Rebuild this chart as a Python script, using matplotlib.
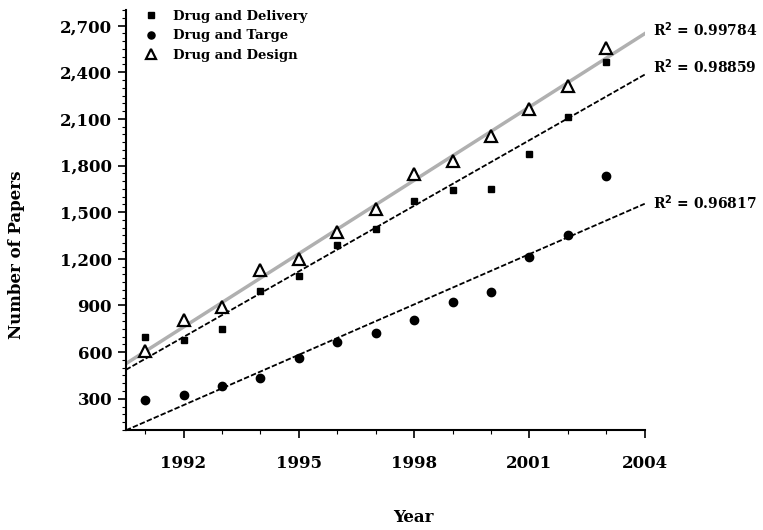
import numpy as np
import matplotlib
matplotlib.use("Agg")
from matplotlib import pyplot as plt
from matplotlib.ticker import MultipleLocator, FuncFormatter

# values
years = [1991, 1992, 1993, 1994, 1995, 1996, 1997, 1998, 1999, 2000, 2001, 2002, 2003]
delivery = [700, 680, 750, 990, 1090, 1290, 1395, 1570, 1640, 1650, 1875, 2110, 2465]
targe = [290, 322, 382, 432, 562, 665, 721, 804, 922, 986, 1211, 1350, 1735]
design = [605, 804, 888, 1125, 1196, 1371, 1523, 1748, 1832, 1992, 2166, 2313, 2557]
r2_labels = ["R$^2$ = 0.99784", "R$^2$ = 0.98859", "R$^2$ = 0.96817"]
x_ticks = [1992, 1995, 1998, 2001, 2004]

plt.rcParams['font.family'] = ['DejaVu Serif']
plt.rcParams['font.weight'] = 'bold'

fig = plt.figure(figsize=(7.63, 5.30), dpi=100)
ax = fig.add_axes([0.165, 0.189, 0.680, 0.792])

x = np.array(years)
xfit = np.array([1990.5, 2004])

# linear trend lines
for ys, col, lw, ls in [(design, '#b0b0b0', 2.5, '-'),
                        (delivery, 'black', 1.3, (0, (3, 1.2))),
                        (targe, 'black', 1.3, (0, (3, 1.2)))]:
    k, b = np.polyfit(x, ys, 1)
    ax.plot(xfit, k*xfit + b, color=col, lw=lw, linestyle=ls, zorder=2)

ax.plot(x, delivery, 's', color='black', ms=5, label='Drug and Delivery', zorder=3)
ax.plot(x, targe, 'o', color='black', ms=6, label='Drug and Targe', zorder=3)
ax.plot(x, design, '^', mfc='white', mec='black', mew=1.6, ms=8.5, label='Drug and Design', zorder=4)

ax.set_xlim(1990.5, 2004)
ax.set_ylim(100, 2800)
ax.set_xticks(x_ticks)
ax.xaxis.set_minor_locator(MultipleLocator(1))
ax.yaxis.set_major_locator(MultipleLocator(300))
ax.yaxis.set_minor_locator(MultipleLocator(50))
ax.set_yticks(range(300, 2701, 300))
ax.yaxis.set_major_formatter(FuncFormatter(lambda v, p: f"{int(v):,}"))
ax.tick_params(axis='both', which='major', labelsize=12, length=6, width=1.2)
ax.tick_params(axis='x', which='major', pad=12)
ax.tick_params(axis='y', which='major', pad=4)
ax.tick_params(axis='both', which='minor', length=3, width=0.8)
for s in ['top', 'right']:
    ax.spines[s].set_visible(False)
for s in ['left', 'bottom']:
    ax.spines[s].set_linewidth(1.5)

leg = ax.legend(loc='upper left', bbox_to_anchor=(0.02, 1.02), frameon=False,
                fontsize=9.5, handletextpad=1.2, borderaxespad=0.2, labelspacing=0.5,
                handlelength=1.0, markerscale=0.85)

# R^2 labels to the right of the lines
fig.text(653/763, 1 - 30/530, r2_labels[0], fontsize=10, va='center', ha='left')
fig.text(653/763, 1 - 67/530, r2_labels[1], fontsize=10, va='center', ha='left')
fig.text(653/763, 1 - 203/530, r2_labels[2], fontsize=10, va='center', ha='left')

fig.text(413/763, 1 - 518/530, 'Year', fontsize=12, ha='center', va='center')
fig.text(17/763, 1 - 255/530, 'Number of Papers', fontsize=12, rotation=90,
         ha='center', va='center')

fig.savefig('out.png', dpi=100)
